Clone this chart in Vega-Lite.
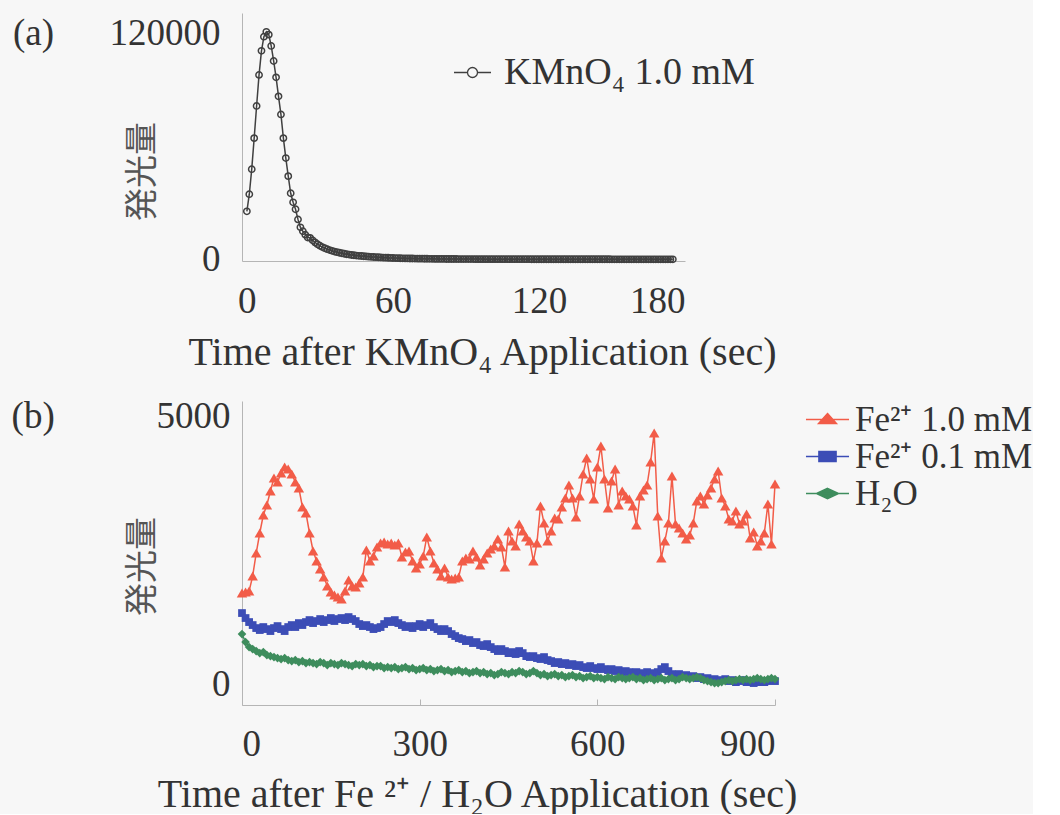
{
  "$schema": "https://vega.github.io/schema/vega-lite/v6.json",
  "background": "#f7f7f7",
  "padding": {"left": 11, "top": 13, "right": 0, "bottom": 0},
  "config": {
    "font": "Liberation Serif",
    "view": {"stroke": null},
    "axis": {"grid": false, "domainColor": "#b5b5b5", "domainWidth": 1, "labelColor": "#333333", "titleColor": "#333333", "labelFont": "Liberation Serif", "titleFont": "Liberation Serif", "labelFontSize": 37, "titleFontSize": 40, "titleFontWeight": "normal", "labelLimit": 600, "titleLimit": 1000},
    "legend": {"labelFont": "Liberation Serif", "labelFontSize": 38, "labelColor": "#333333", "labelLimit": 600}
  },
  "spacing": 25,
  "resolve": {"scale": {"color": "independent"}, "legend": {"color": "independent"}},
  "vconcat": [
    {
      "width": 443,
      "height": 248,
      "data": {"values": [
        {"t":0,"k":25600},{"t":1,"k":34700},{"t":2,"k":48000},{"t":3,"k":64500},{"t":4,"k":81600},{"t":5,"k":98100},{"t":6,"k":110900},{"t":7,"k":118400},{"t":8,"k":121000},{"t":9,"k":119500},
        {"t":10,"k":113500},{"t":11,"k":105500},{"t":12,"k":96800},{"t":13,"k":86700},{"t":14,"k":77100},{"t":15,"k":64500},{"t":16,"k":53900},{"t":17,"k":44300},{"t":18,"k":35200},{"t":19,"k":30400},
        {"t":20,"k":26700},{"t":21,"k":21300},{"t":22,"k":17100},{"t":23,"k":15000},{"t":24,"k":13200},{"t":25,"k":11700},{"t":26,"k":11500},{"t":27,"k":10200},{"t":28,"k":9100},{"t":29,"k":8100},
        {"t":30,"k":7300},{"t":31,"k":6600},{"t":32,"k":6000},{"t":33,"k":5500},{"t":34,"k":5000},{"t":35,"k":4600},{"t":36,"k":4200},{"t":37,"k":3900},{"t":38,"k":3600},{"t":39,"k":3300},
        {"t":40,"k":3050},{"t":41,"k":2800},{"t":42,"k":2600},{"t":43,"k":2400},{"t":44,"k":2250},{"t":45,"k":2100},{"t":46,"k":1960},{"t":47,"k":1840},{"t":48,"k":1730},{"t":49,"k":1620},
        {"t":50,"k":1520},{"t":51,"k":1430},{"t":52,"k":1340},{"t":53,"k":1260},{"t":54,"k":1180},{"t":55,"k":1110},{"t":56,"k":1040},{"t":57,"k":980},{"t":58,"k":920},{"t":59,"k":860},
        {"t":60,"k":810},{"t":61,"k":760},{"t":62,"k":720},{"t":63,"k":680},{"t":64,"k":640},{"t":65,"k":600},{"t":66,"k":570},{"t":67,"k":540},{"t":68,"k":510},{"t":69,"k":485},
        {"t":70,"k":460},{"t":71,"k":440},{"t":72,"k":420},{"t":73,"k":400},{"t":74,"k":380},{"t":75,"k":365},{"t":76,"k":350},{"t":77,"k":335},{"t":78,"k":320},{"t":79,"k":310},
        {"t":80,"k":300},{"t":81,"k":290},{"t":82,"k":280},{"t":83,"k":270},{"t":84,"k":262},{"t":85,"k":255},{"t":86,"k":248},{"t":87,"k":240},{"t":88,"k":234},{"t":89,"k":228},
        {"t":90,"k":222},{"t":91,"k":216},{"t":92,"k":212},{"t":93,"k":208},{"t":94,"k":204},{"t":95,"k":200},{"t":96,"k":197},{"t":97,"k":194},{"t":98,"k":191},{"t":99,"k":188},
        {"t":100,"k":185},{"t":101,"k":182},{"t":102,"k":180},{"t":103,"k":177},{"t":104,"k":175},{"t":105,"k":172},{"t":106,"k":170},{"t":107,"k":168},{"t":108,"k":166},{"t":109,"k":164},
        {"t":110,"k":162},{"t":111,"k":160},{"t":112,"k":158},{"t":113,"k":156},{"t":114,"k":154},{"t":115,"k":152},{"t":116,"k":150},{"t":117,"k":149},{"t":118,"k":147},{"t":119,"k":146},
        {"t":120,"k":144},{"t":121,"k":143},{"t":122,"k":141},{"t":123,"k":140},{"t":124,"k":138},{"t":125,"k":137},{"t":126,"k":136},{"t":127,"k":134},{"t":128,"k":133},{"t":129,"k":132},
        {"t":130,"k":131},{"t":131,"k":129},{"t":132,"k":128},{"t":133,"k":127},{"t":134,"k":126},{"t":135,"k":125},{"t":136,"k":124},{"t":137,"k":123},{"t":138,"k":122},{"t":139,"k":121},
        {"t":140,"k":120},{"t":141,"k":119},{"t":142,"k":118},{"t":143,"k":117},{"t":144,"k":116},{"t":145,"k":115},{"t":146,"k":114},{"t":147,"k":113},{"t":148,"k":112},{"t":149,"k":111},
        {"t":150,"k":110},{"t":151,"k":110},{"t":152,"k":109},{"t":153,"k":108},{"t":154,"k":107},{"t":155,"k":106},{"t":156,"k":106},{"t":157,"k":105},{"t":158,"k":104},{"t":159,"k":103},
        {"t":160,"k":103},{"t":161,"k":102},{"t":162,"k":101},{"t":163,"k":101},{"t":164,"k":100},{"t":165,"k":99},{"t":166,"k":99},{"t":167,"k":98},{"t":168,"k":97},{"t":169,"k":97},
        {"t":170,"k":96},{"t":171,"k":96},{"t":172,"k":95},{"t":173,"k":94},{"t":174,"k":94},{"t":175,"k":93}
      ]},
      "transform": [{"fold": ["k"], "as": ["s", "v"]}],
      "encoding": {
        "x": {"field": "t", "type": "quantitative", "scale": {"domain": [-2, 180], "nice": false, "zero": false},
              "axis": {"values": [0, 60, 120, 180], "ticks": false, "labelPadding": 22, "title": "Time after  KMnO₄ Application (sec)", "titleX": 240, "titleY": 91, "titleBaseline": "middle", "titleAlign": "center"}},
        "y": {"field": "v", "type": "quantitative", "scale": {"domain": [-800, 131000], "nice": false, "zero": false},
              "axis": {"values": [0, 120000], "format": "d", "ticks": false, "labelPadding": 22,
                       "labelExpr": "datum.value === 120000 ? '(a)\u00a0\u00a0\u00a0\u00a0\u00a0\u00a0120000' : datum.label",
                       "title": "発光量", "titleFont": "Noto Sans CJK JP", "titleFontSize": 33, "titleColor": "#555555", "titleX": -100, "titleY": 158, "titleBaseline": "middle", "titleAlign": "center", "titleAngle": -90}},
        "color": {"field": "s", "type": "nominal", "scale": {"domain": ["k"], "range": ["#404040"]},
                  "legend": {"title": null, "orient": "none", "legendX": 211, "legendY": 40, "padding": 0, "symbolSize": 1369, "symbolStrokeWidth": 1.3, "labelOffset": 12,
                             "labelExpr": "'KMnO₄ 1.0 mM'",
                             "symbolType": "M-1,0H-0.27M0.27,0H1M0.27,0A0.27,0.27 0 1 1 -0.27,0A0.27,0.27 0 1 1 0.27,0",
                             "symbolFillColor": "transparent", "symbolStrokeColor": "#404040", "symbolOpacity": 1}}
      },
      "layer": [
        {"mark": {"type": "line", "strokeWidth": 1.5}},
        {"mark": {"type": "point", "filled": false, "size": 40, "strokeWidth": 1.5, "opacity": 1}}
      ]
    },
    {
      "width": 533,
      "height": 304,
      "data": {"values": [
        {"t":0,"r":1700,"b":1325,"g":933},{"t":6,"r":1717,"b":1232,"g":784},{"t":12,"r":1735,"b":1157,"g":690},{"t":18,"r":2015,"b":1101,"g":653},{"t":24,"r":2444,"b":1045,"g":616},
        {"t":30,"r":2818,"b":1008,"g":578},{"t":36,"r":3154,"b":1064,"g":597},{"t":42,"r":3340,"b":1026,"g":541},{"t":48,"r":3601,"b":989,"g":522},{"t":54,"r":3844,"b":1045,"g":504},
        {"t":60,"r":3769,"b":1082,"g":485},{"t":66,"r":3937,"b":1026,"g":467},{"t":72,"r":4049,"b":989,"g":485},{"t":78,"r":4012,"b":1064,"g":448},{"t":84,"r":3919,"b":1101,"g":429},
        {"t":90,"r":3769,"b":1064,"g":448},{"t":96,"r":3657,"b":1138,"g":411},{"t":102,"r":3303,"b":1101,"g":429},{"t":108,"r":3191,"b":1157,"g":392},{"t":114,"r":2818,"b":1194,"g":411},
        {"t":120,"r":2482,"b":1138,"g":392},{"t":126,"r":2295,"b":1176,"g":373},{"t":132,"r":2146,"b":1213,"g":411},{"t":138,"r":1997,"b":1157,"g":392},{"t":144,"r":1829,"b":1194,"g":355},
        {"t":150,"r":1717,"b":1232,"g":392},{"t":156,"r":1661,"b":1176,"g":373},{"t":162,"r":1623,"b":1213,"g":355},{"t":168,"r":1586,"b":1232,"g":392},{"t":174,"r":1735,"b":1194,"g":373},
        {"t":180,"r":1941,"b":1250,"g":355},{"t":186,"r":1829,"b":1213,"g":336},{"t":192,"r":1810,"b":1176,"g":373},{"t":198,"r":1885,"b":1120,"g":355},{"t":204,"r":1997,"b":1082,"g":373},
        {"t":210,"r":2500,"b":1101,"g":336},{"t":216,"r":2295,"b":1064,"g":355},{"t":222,"r":2388,"b":1026,"g":317},{"t":228,"r":2556,"b":1045,"g":336},{"t":234,"r":2631,"b":1064,"g":336},
        {"t":240,"r":2650,"b":1120,"g":299},{"t":246,"r":2612,"b":1176,"g":317},{"t":252,"r":2631,"b":1157,"g":299},{"t":258,"r":2594,"b":1194,"g":317},{"t":264,"r":2631,"b":1138,"g":280},
        {"t":270,"r":2370,"b":1101,"g":299},{"t":276,"r":2463,"b":1064,"g":317},{"t":282,"r":2482,"b":1082,"g":280},{"t":288,"r":2295,"b":1045,"g":299},{"t":294,"r":2165,"b":1082,"g":261},
        {"t":300,"r":2239,"b":1120,"g":280},{"t":306,"r":2388,"b":1064,"g":299},{"t":312,"r":2743,"b":1101,"g":261},{"t":318,"r":2482,"b":1138,"g":280},{"t":324,"r":2258,"b":1064,"g":243},
        {"t":330,"r":2146,"b":1026,"g":261},{"t":336,"r":2015,"b":989,"g":280},{"t":342,"r":2165,"b":1026,"g":243},{"t":348,"r":1997,"b":989,"g":261},{"t":354,"r":1959,"b":933,"g":224},
        {"t":360,"r":1978,"b":896,"g":243},{"t":366,"r":1997,"b":858,"g":261},{"t":372,"r":2295,"b":840,"g":224},{"t":378,"r":2351,"b":802,"g":243},{"t":384,"r":2333,"b":821,"g":205},
        {"t":390,"r":2482,"b":765,"g":224},{"t":396,"r":2370,"b":784,"g":243},{"t":402,"r":2221,"b":728,"g":205},{"t":408,"r":2333,"b":709,"g":224},{"t":414,"r":2444,"b":746,"g":187},
        {"t":420,"r":2519,"b":690,"g":205},{"t":426,"r":2575,"b":653,"g":168},{"t":432,"r":2706,"b":616,"g":187},{"t":438,"r":2556,"b":653,"g":224},{"t":444,"r":2183,"b":616,"g":205},
        {"t":450,"r":2855,"b":578,"g":187},{"t":456,"r":2668,"b":597,"g":224},{"t":462,"r":2575,"b":560,"g":205},{"t":468,"r":2986,"b":616,"g":243},{"t":474,"r":2855,"b":578,"g":224},
        {"t":480,"r":2743,"b":522,"g":187},{"t":486,"r":2668,"b":504,"g":205},{"t":492,"r":2295,"b":522,"g":243},{"t":498,"r":2631,"b":485,"g":205},{"t":504,"r":3321,"b":467,"g":168},
        {"t":510,"r":3004,"b":504,"g":187},{"t":516,"r":2668,"b":448,"g":149},{"t":522,"r":2855,"b":429,"g":168},{"t":528,"r":3098,"b":392,"g":187},{"t":534,"r":3079,"b":411,"g":149},
        {"t":540,"r":3303,"b":373,"g":168},{"t":546,"r":3471,"b":392,"g":131},{"t":552,"r":3713,"b":355,"g":149},{"t":558,"r":3471,"b":373,"g":168},{"t":564,"r":3116,"b":336,"g":131},
        {"t":570,"r":3508,"b":355,"g":149},{"t":576,"r":3919,"b":317,"g":112},{"t":582,"r":4217,"b":299,"g":131},{"t":588,"r":3825,"b":336,"g":149},{"t":594,"r":3452,"b":299,"g":112},
        {"t":600,"r":4049,"b":280,"g":131},{"t":606,"r":4441,"b":317,"g":112},{"t":612,"r":3825,"b":280,"g":93},{"t":618,"r":3284,"b":261,"g":131},{"t":624,"r":3788,"b":280,"g":112},
        {"t":630,"r":4012,"b":243,"g":93},{"t":636,"r":3340,"b":261,"g":131},{"t":642,"r":3601,"b":224,"g":112},{"t":648,"r":3508,"b":243,"g":93},{"t":654,"r":3452,"b":224,"g":112},
        {"t":660,"r":3321,"b":205,"g":131},{"t":666,"r":2967,"b":224,"g":93},{"t":672,"r":3508,"b":205,"g":112},{"t":678,"r":3620,"b":187,"g":75},{"t":684,"r":3713,"b":224,"g":93},
        {"t":690,"r":4143,"b":205,"g":112},{"t":696,"r":4684,"b":187,"g":75},{"t":702,"r":3135,"b":224,"g":93},{"t":708,"r":2351,"b":280,"g":112},{"t":714,"r":2668,"b":317,"g":75},
        {"t":720,"r":3004,"b":243,"g":93},{"t":726,"r":3881,"b":187,"g":112},{"t":732,"r":2986,"b":168,"g":75},{"t":738,"r":2911,"b":187,"g":93},{"t":744,"r":2818,"b":149,"g":131},
        {"t":750,"r":2706,"b":168,"g":112},{"t":756,"r":2780,"b":131,"g":93},{"t":762,"r":3004,"b":149,"g":112},{"t":768,"r":3415,"b":112,"g":131},{"t":774,"r":3508,"b":131,"g":112},
        {"t":780,"r":3359,"b":93,"g":75},{"t":786,"r":3527,"b":112,"g":56},{"t":792,"r":3657,"b":75,"g":37},{"t":798,"r":3825,"b":93,"g":19},{"t":804,"r":3975,"b":56,"g":19},
        {"t":810,"r":3471,"b":75,"g":37},{"t":816,"r":3321,"b":93,"g":56},{"t":822,"r":3079,"b":56,"g":75},{"t":828,"r":3042,"b":75,"g":56},{"t":834,"r":3228,"b":37,"g":75},
        {"t":840,"r":2986,"b":56,"g":93},{"t":846,"r":3042,"b":75,"g":75},{"t":852,"r":3172,"b":37,"g":93},{"t":858,"r":2724,"b":56,"g":75},{"t":864,"r":2836,"b":19,"g":93},
        {"t":870,"r":2575,"b":37,"g":112},{"t":876,"r":2668,"b":56,"g":93},{"t":882,"r":2818,"b":37,"g":75},{"t":888,"r":3359,"b":56,"g":93},{"t":894,"r":2612,"b":75,"g":112},
        {"t":900,"r":3732,"b":56,"g":93}
      ]},
      "transform": [{"fold": ["r", "b", "g"], "as": ["s", "v"]}],
      "encoding": {
        "x": {"field": "t", "type": "quantitative", "scale": {"domain": [0, 900], "nice": false},
              "axis": {"values": [0, 300, 600, 900], "tickSize": -6, "tickColor": "#b5b5b5", "labelPadding": 27, "title": "Time after Fe ²⁺ / H₂O Application (sec)", "titleX": 235, "titleY": 89, "titleBaseline": "middle", "titleAlign": "center"}},
        "y": {"field": "v", "type": "quantitative", "scale": {"domain": [-390, 5280], "nice": false, "zero": false},
              "axis": {"values": [0, 5000], "format": "d", "ticks": false, "labelPadding": 12,
                       "labelExpr": "datum.value === 5000 ? '(b)\u00a0\u00a0\u00a0\u00a0\u00a0\u00a0\u00a0\u00a0\u00a0\u00a0\u00a05000' : datum.label",
                       "title": "発光量", "titleFont": "Noto Sans CJK JP", "titleFontSize": 33, "titleColor": "#555555", "titleX": -100, "titleY": 165, "titleBaseline": "middle", "titleAlign": "center", "titleAngle": -90}},
        "color": {"field": "s", "type": "nominal", "scale": {"domain": ["r", "b", "g"], "range": ["#f25c48", "#3c4db6", "#3e8d5d"]},
                  "legend": {"title": null, "orient": "right", "offset": 31, "padding": 0, "rowPadding": 0, "symbolSize": 1225, "symbolStrokeWidth": 1.5, "labelOffset": 9, "labelFontSize": 35,
                             "labelExpr": "datum.value === 'r' ? 'Fe²⁺ 1.0 mM' : datum.value === 'b' ? 'Fe²⁺ 0.1 mM' : 'H₂O'",
                             "encode": {"symbols": {"update": {
                               "shape": {"signal": "datum.value === 'r' ? 'M-1.23,0H1.23M0,-0.34L0.51,0.23L-0.51,0.23Z' : datum.value === 'b' ? 'M-1.23,0H1.23M-0.49,-0.29H0.49V0.29H-0.49Z' : 'M-1.23,0H1.23M0,-0.29L0.63,0L0,0.29L-0.63,0Z'"},
                               "fill": {"signal": "datum.value === 'r' ? '#f25c48' : datum.value === 'b' ? '#3c4db6' : '#3e8d5d'"},
                               "stroke": {"signal": "datum.value === 'r' ? '#f25c48' : datum.value === 'b' ? '#3c4db6' : '#3e8d5d'"},
                               "strokeWidth": {"value": 1.5},
                               "opacity": {"value": 1}}}}}}
      },
      "layer": [
        {"mark": {"type": "line", "strokeWidth": 1.5}},
        {"transform": [{"filter": "datum.s === 'b'"}], "mark": {"type": "point", "shape": "square", "size": 60, "filled": true, "opacity": 1}},
        {"transform": [{"filter": "datum.s === 'g'"}], "mark": {"type": "point", "shape": "diamond", "size": 75, "filled": true, "opacity": 1}},
        {"transform": [{"filter": "datum.s === 'r'"}], "mark": {"type": "point", "shape": "triangle-up", "size": 110, "filled": true, "opacity": 1}}
      ]
    }
  ]
}
